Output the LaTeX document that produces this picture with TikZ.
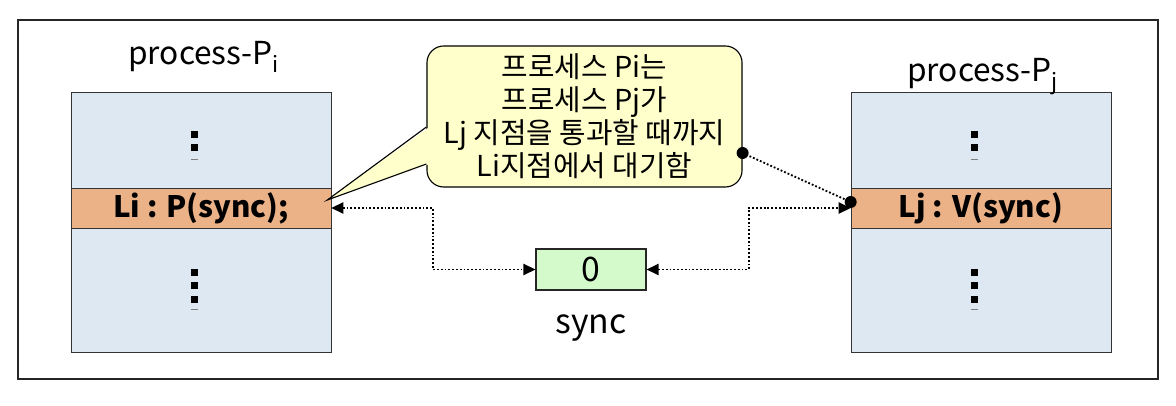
\documentclass[tikz,border=0pt]{standalone}
\usepackage{fontspec}
\setmainfont{Noto Sans CJK KR}
\usepackage{xcolor}
\usepackage{tikz}
\usetikzlibrary{positioning}
\usetikzlibrary{arrows.meta,calc}

\definecolor{procblue}{RGB}{222,232,243}
\definecolor{bandorange}{RGB}{235,177,135}
\definecolor{syncgreen}{RGB}{212,250,204}
\definecolor{noteyellow}{RGB}{255,255,204}

\tikzset{
  procbox/.style={draw=black!80, fill=procblue, minimum width=6.5cm, minimum height=6.5cm, inner sep=0pt},
  band/.style={draw=black!80, fill=bandorange, minimum width=6.5cm, minimum height=1cm, inner sep=0pt, font=\fontsize{21}{24}\selectfont\bfseries},
  title/.style={anchor=base, font=\fontsize{22.5}{27}\selectfont},
  semabox/.style={draw=black!85, thick, fill=syncgreen, minimum width=2.75cm, minimum height=1.025cm, inner sep=0pt, font=\fontsize{24}{28}\selectfont},
  notebox/.style={draw=black, thick, fill=noteyellow, rounded corners=0.42cm, minimum width=7.875cm, minimum height=3.525cm, inner sep=0pt, align=center, font=\fontsize{20.5}{23.5}\selectfont},
  dotlink/.style={line width=1.3pt, dash pattern=on 1.3pt off 1.4pt},
  >={Triangle[length=0.3cm,width=0.28cm]}
}

\begin{document}
\begin{tikzpicture}[x=0.025cm,y=-0.025cm]
 \useasboundingbox (0,0) rectangle (1176,406);

 % frame
 \draw[line width=1.4pt, black!85] (18,20) rectangle (1158,379);

 % processes
 \node[procbox] (proci) at (201,222) {};
 \node[procbox] (procj) at (981,222) {};
 \node[band] (bandi) at (201,208) {Li : P(sync);};
 \node[band] (bandj) at (981,208) {Lj : V(sync)};
 \node[title] (titlei) at (204,65) {process-P\textsubscript{i}};
 \node[title] (titlej) at (983,82) {process-P\textsubscript{j}};

 % dots
 \foreach \x in {194,974} {
   \foreach \y in {135,148}
     \fill (\x-3.5,\y-3.5) rectangle ++(7,7);
   \foreach \y in {273,286,299}
     \fill (\x-3.5,\y-3.5) rectangle ++(7,7);
   \draw[gray, thin] (\x-3.5,159) -- ++(7,0);
   \draw[gray, thin] (\x-3.5,309) -- ++(7,0);
 }

 % semaphore
 \node[semabox] (semaphore) at (591,269.5) {0};
 \node[title, font=\fontsize{24}{28}\selectfont] (semaname) at (591,333) {sync};

 % lines
 \coordinate (bendl) at (433,208);
 \coordinate (bendr) at (749,208);
 \draw[dotlink, <->] (bandi.east) -- (bendl) |- (semaphore.west);
 \draw[dotlink, <->] (semaphore.east) -| (bendr) -- (bandj.west);

 % callout
 \node[notebox] (note) at (584.5,116.5) {프로세스 Pi는\\프로세스 Pj가\\Lj 지점을 통과할 때까지\\Li지점에서 대기함};
 \coordinate (ptrtop) at ($(note.west)+(0,10.5)$);
 \coordinate (ptrbot) at ($(note.west)+(0,47.5)$);
 \coordinate (ptrtip) at ($(bandi.east)+(-4,-8)$);
 \fill[noteyellow] ($(ptrtop)+(3,0)$) -- (ptrtip) -- ($(ptrbot)+(3,0)$) -- cycle;
 \draw[thick, line join=miter] (ptrtop) -- (ptrtip) -- (ptrbot);

 \coordinate (notedot) at ($(note.east)+(0,36.5)$);
 \coordinate (banddot) at ($(bandj.west)+(0,-6)$);
 \draw[dotlink] (notedot) -- (banddot);
 \fill (notedot) circle (0.15cm);
 \fill (banddot) circle (0.15cm);

\end{tikzpicture}
\end{document}
